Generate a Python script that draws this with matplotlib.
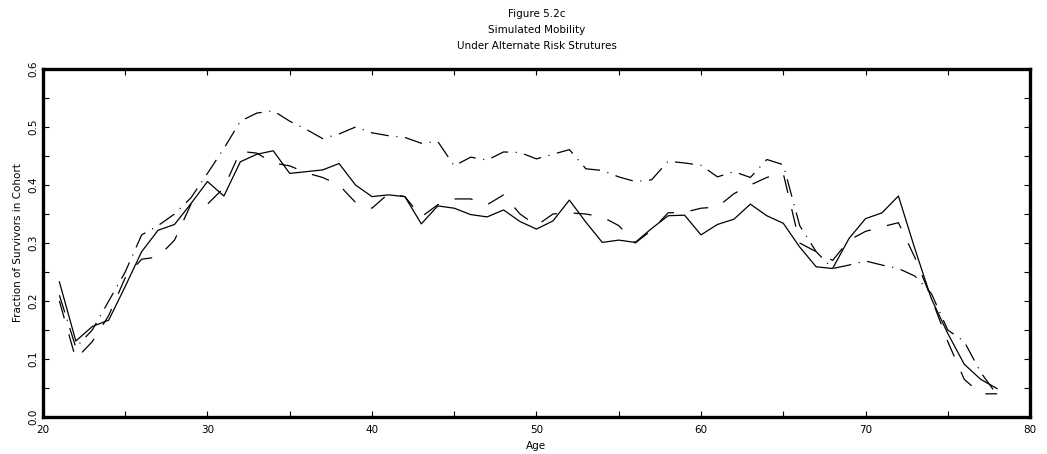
import numpy as np
import matplotlib
matplotlib.use("Agg")
import matplotlib.pyplot as plt
from matplotlib.ticker import MultipleLocator

plt.rcParams['font.family'] = ['DejaVu Sans']
plt.rcParams['lines.scale_dashes'] = False

# data
ages = list(range(21, 79))

solid = [0.233, 0.131, 0.156, 0.167, 0.225, 0.285, 0.322, 0.332, 0.368, 0.406,
         0.381, 0.440, 0.453, 0.459, 0.420, 0.423, 0.426, 0.437, 0.400, 0.380,
         0.383, 0.380, 0.333, 0.364, 0.360, 0.349, 0.345, 0.357, 0.337, 0.324,
         0.338, 0.374, 0.336, 0.301, 0.305, 0.301, 0.325, 0.347, 0.348, 0.314,
         0.332, 0.341, 0.367, 0.347, 0.334, 0.293, 0.259, 0.256, 0.308, 0.342,
         0.352, 0.381, 0.290, 0.204, 0.144, 0.091, 0.065, 0.049]

dashed = [0.200, 0.100, 0.130, 0.175, 0.240, 0.272, 0.276, 0.305, 0.367, 0.367,
          0.395, 0.458, 0.455, 0.438, 0.433, 0.421, 0.413, 0.400, 0.370, 0.360,
          0.385, 0.380, 0.345, 0.366, 0.376, 0.376, 0.366, 0.383, 0.350, 0.330,
          0.350, 0.352, 0.350, 0.345, 0.330, 0.300, 0.322, 0.352, 0.353, 0.360,
          0.362, 0.385, 0.400, 0.413, 0.420, 0.300, 0.285, 0.270, 0.305, 0.320,
          0.328, 0.335, 0.275, 0.205, 0.130, 0.065, 0.040, 0.040]

dashdot = [0.210, 0.120, 0.150, 0.200, 0.250, 0.314, 0.330, 0.350, 0.378, 0.420,
           0.463, 0.510, 0.524, 0.528, 0.510, 0.496, 0.480, 0.488, 0.500, 0.490,
           0.485, 0.482, 0.472, 0.475, 0.433, 0.448, 0.443, 0.457, 0.456, 0.445,
           0.453, 0.461, 0.428, 0.425, 0.414, 0.406, 0.409, 0.441, 0.438, 0.434,
           0.414, 0.423, 0.413, 0.444, 0.435, 0.330, 0.285, 0.256, 0.262, 0.269,
           0.262, 0.256, 0.243, 0.213, 0.150, 0.130, 0.077, 0.038]

title_lines = ["Figure 5.2c", "Simulated Mobility", "Under Alternate Risk Strutures"]

fig = plt.figure(figsize=(10.47, 4.54), dpi=100)
ax = fig.add_axes([0.041, 0.0815, 0.9428, 0.7665])

ax.plot(ages, solid, color='black', lw=0.9, ls='-')
ax.plot(ages, dashed, color='black', lw=0.9, ls=(0, (13, 12)))
ax.plot(ages, dashdot, color='black', lw=0.9, ls=(0, (13, 5.5, 0.8, 5.5)))

ax.set_xlim(20, 80)
ax.set_ylim(0, 0.6)
ax.xaxis.set_major_locator(MultipleLocator(10))
ax.xaxis.set_minor_locator(MultipleLocator(5))
ax.yaxis.set_major_locator(MultipleLocator(0.1))
ax.yaxis.set_minor_locator(MultipleLocator(0.05))
ax.yaxis.set_major_formatter(plt.FormatStrFormatter('%.1f'))

ax.tick_params(which='both', direction='in', top=True, right=True,
               length=4, width=0.8, labelsize=7.5)
ax.tick_params(axis='x', pad=6)
ax.tick_params(axis='y', pad=3)
for lbl in ax.get_yticklabels():
    lbl.set_rotation(90)
    lbl.set_va('center')

for sp in ax.spines.values():
    sp.set_linewidth(2.4)

ax.set_xlabel("Age", fontsize=7.5, labelpad=4)
ax.set_ylabel("Fraction of Survivors in Cohort", fontsize=7.5, labelpad=4)

for i, t in enumerate(title_lines):
    fig.text(0.5125, 1 - (14 + 16 * i) / 454, t, ha='center', va='center', fontsize=7.5)

fig.savefig("out.png", dpi=100)
